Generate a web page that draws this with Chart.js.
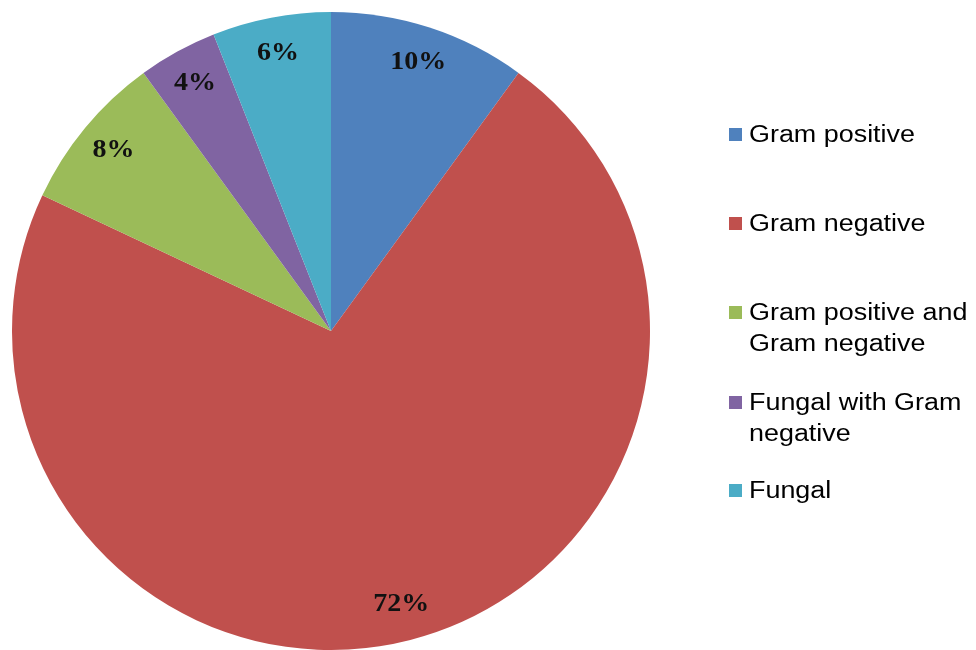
<!DOCTYPE html>
<html>
<head>
<meta charset="utf-8">
<script src="https://cdn.jsdelivr.net/npm/chart.js@4"></script>
<style>
  html, body { margin: 0; padding: 0; background: #fff; }
  #wrap { width: 976px; height: 650px; }
</style>
</head>
<body>
<div id="wrap"><canvas id="pieChart" width="976" height="650"></canvas></div>
<script>
const categories = ['Gram positive', 'Gram negative', 'Gram positive and Gram negative', 'Fungal with Gram negative', 'Fungal'];
const percentages = [10, 72, 8, 4, 6];
const sliceColors = ['#4F81BD', '#C0504D', '#9BBB59', '#8064A2', '#4BACC6'];

// percent labels inside the slices
const sliceLabels = {
    id: 'sliceLabels',
    afterDatasetsDraw(chart) {
        const ctx = chart.ctx;
        const meta = chart.getDatasetMeta(0);
        ctx.save();
        ctx.fillStyle = '#111';
        ctx.font = 'bold 25px "Liberation Serif", "Times New Roman", serif';
        ctx.textAlign = 'center';
        ctx.textBaseline = 'middle';
        meta.data.forEach((arc, i) => {
            const mid = (arc.startAngle + arc.endAngle) / 2;
            const r = arc.outerRadius * 0.885;
            const x = arc.x + Math.cos(mid) * r;
            const y = arc.y + Math.sin(mid) * r;
            ctx.save();
            ctx.translate(x, y);
            ctx.scale(1.12, 1);
            ctx.fillText(percentages[i] + '%', 0, 0);
            ctx.restore();
        });
        ctx.restore();
    }
};

// legend on the right, with wrapped lines like the original
const sideLegend = {
    id: 'sideLegend',
    afterDraw(chart) {
        const ctx = chart.ctx;
        const left = 729, textX = 749, maxW = 226, stretch = 1.17;
        const firstBase = [142, 231, 320, 410, 498];
        const lineH = 31;
        ctx.save();
        ctx.font = '23px "Liberation Sans", Arial, sans-serif';
        ctx.textBaseline = 'alphabetic';
        chart.data.labels.forEach((label, i) => {
            // wrap
            const words = label.split(' ');
            const lines = [];
            let cur = '';
            words.forEach(w => {
                const test = cur ? cur + ' ' + w : w;
                if (ctx.measureText(test).width * stretch > maxW && cur) {
                    lines.push(cur);
                    cur = w;
                } else {
                    cur = test;
                }
            });
            lines.push(cur);
            const base = firstBase[i];
            ctx.fillStyle = chart.data.datasets[0].backgroundColor[i];
            ctx.fillRect(left, base - 14, 13, 13);
            ctx.fillStyle = '#000';
            lines.forEach((ln, j) => {
                ctx.save();
                ctx.translate(textX, base + j * lineH);
                ctx.scale(stretch, 1);
                ctx.fillText(ln, 0, 0);
                ctx.restore();
            });
        });
        ctx.restore();
    }
};

new Chart(document.getElementById('pieChart').getContext('2d'), {
    type: 'pie',
    data: {
        labels: categories,
        datasets: [{
            data: percentages,
            backgroundColor: sliceColors,
            borderWidth: 0
        }]
    },
    options: {
        responsive: false,
        animation: false,
        layout: { padding: { left: 11, right: 325, top: 12, bottom: -2 } },
        plugins: {
            legend: { display: false },
            tooltip: { enabled: false }
        }
    },
    plugins: [sliceLabels, sideLegend]
});
</script>
</body>
</html>
